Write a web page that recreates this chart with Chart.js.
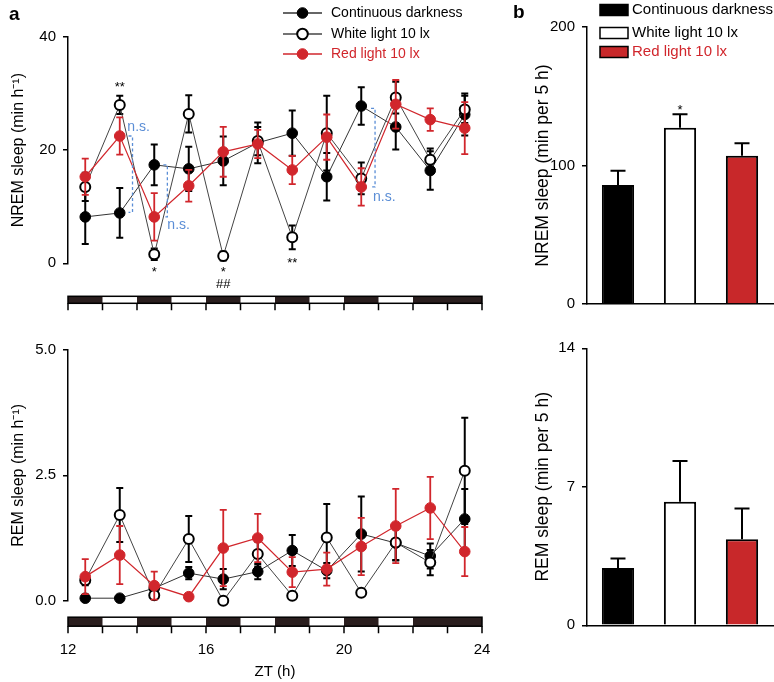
<!DOCTYPE html>
<html><head><meta charset="utf-8">
<script src="https://cdn.jsdelivr.net/npm/chart.js@4/dist/chart.umd.min.js"></script>
<style>
html,body{margin:0;padding:0;background:#fff;}
#wrap{position:relative;width:774px;height:682px;overflow:hidden;}
#wrap canvas{position:absolute;left:0;top:0;}
</style></head><body>
<div id="wrap">
<canvas id="c1" width="774" height="682"></canvas>
<canvas id="c2" width="774" height="682"></canvas>
<canvas id="c3" width="774" height="682"></canvas>
<canvas id="c4" width="774" height="682"></canvas>
</div>
<script>
// ---------- data ----------
const zt = [12.5, 13.5, 14.5, 15.5, 16.5, 17.5, 18.5, 19.5, 20.5, 21.5, 22.5, 23.5];
const groups = ['Continuous darkness', 'White light 10 lx', 'Red light 10 lx'];

const nremDark     = [8.2, 8.9, 17.4, 16.7, 18.1, 21.3, 23.0, 15.3, 27.8, 24.1, 16.4, 26.3];
const nremDarkErr  = [4.8, 4.4, 3.6, 3.9, 4.3, 3.6, 4.0, 4.2, 3.3, 4.0, 3.4, 3.7];
const nremWhite    = [13.5, 28.0, 1.6, 26.4, 1.3, 21.6, 4.6, 23.0, 15.0, 29.3, 18.3, 27.2];
const nremWhiteErr = [2.5, 1.6, 1.0, 3.3, 0.8, 2.5, 2.1, 6.6, 2.8, 2.8, 2.0, 2.4];
const nremRed      = [15.3, 22.5, 8.2, 13.7, 19.7, 21.1, 16.5, 22.3, 13.5, 28.1, 25.4, 23.9];
const nremRedErr   = [3.2, 3.3, 4.2, 2.8, 4.4, 2.5, 2.5, 4.0, 3.3, 4.3, 2.0, 4.6];

const remDark      = [0.05, 0.05, 0.25, 0.55, 0.43, 0.58, 1.0, 0.6, 1.33, 1.15, 0.89, 1.63];
const remDarkErr   = [0.05, 0.05, 0.1, 0.12, 0.2, 0.15, 0.31, 0.15, 0.75, 0.35, 0.25, 0.6];
const remWhite     = [0.41, 1.71, 0.11, 1.23, 0.0, 0.93, 0.1, 1.26, 0.16, 1.16, 0.76, 2.59];
const remWhiteErr  = [0.1, 0.54, 0.05, 0.46, 0.03, 0.25, 0.05, 0.67, 0.05, 0.35, 0.25, 1.06];
const remRed       = [0.48, 0.91, 0.3, 0.08, 1.05, 1.25, 0.57, 0.63, 1.08, 1.49, 1.85, 0.98];
const remRedErr    = [0.35, 0.58, 0.28, 0.03, 0.76, 0.48, 0.3, 0.33, 0.57, 0.74, 0.62, 0.49];

const nremTotal    = [85.9, 127.3, 107.0];
const nremTotalErr = [10.3, 9.7, 9.0];
const remTotal     = [2.9, 6.25, 4.35];
const remTotalErr  = [0.47, 2.05, 1.55];

const ldDarkPhases = [[12, 13], [14, 15], [16, 17], [18, 19], [20, 21], [22, 24]];
const ldHourTicks  = [12, 13, 14, 15, 16, 17, 18, 19, 20, 21, 22, 23, 24];
const nremTicks = [0, 20, 40];
const remTicks = [0, 2.5, 5];
const ztTicks = [12, 16, 20, 24];
const nremTotalTicks = [0, 100, 200];
const remTotalTicks = [0, 7, 14];

const nremMarks = [
  {x: 13.5, y: 31.0, text: '**'},
  {x: 14.5, y: -1.6, text: '*'},
  {x: 16.5, y: -1.6, text: '*'},
  {x: 16.5, y: -3.8, text: '##'},
  {x: 18.5, y: -0.1, text: '**'}
];
const nsText = 'n.s.';
const nremBrackets = [
  {x: 13.87, y1: 22.5, y2: 9.0, lx: 13.72, ly: 24.1},
  {x: 14.88, y1: 17.4, y2: 8.2, lx: 14.88, ly: 6.8},
  {x: 20.90, y1: 27.4, y2: 13.5, lx: 20.84, ly: 11.7}
];
const nremTotalMarks = [{x: 1, y: 140, text: '*'}];

// ---------- style ----------
const FONT = '"Liberation Sans", Arial, Helvetica, sans-serif';
const RED = '#d1262c';
const BAR_RED = '#c8282a';
const NS_BLUE = '#5b8ed6';
Chart.defaults.font.family = FONT;
Chart.defaults.color = '#000';
Chart.defaults.animation = false;

// ---------- plugins ----------
function drawErrors(chart, args, oneSided) {
  const ds = chart.data.datasets[args.index];
  if (!ds.errors) return;
  const ys = chart.scales.y, ctx = chart.ctx;
  ctx.save();
  ctx.strokeStyle = ds.errorColor; ctx.lineWidth = ds.errorWidth;
  args.meta.data.forEach((el, i) => {
    const raw = ds.data[i];
    const v = (typeof raw === 'object') ? raw.y : raw;
    const e = ds.errors[i];
    const top = ys.getPixelForValue(v + e);
    const bot = oneSided ? ys.getPixelForValue(v) : ys.getPixelForValue(v - e);
    const x = el.x, c = ds.errorCap;
    ctx.beginPath();
    ctx.moveTo(x, top); ctx.lineTo(x, bot);
    ctx.moveTo(x - c, top); ctx.lineTo(x + c, top);
    if (!oneSided) { ctx.moveTo(x - c, bot); ctx.lineTo(x + c, bot); }
    ctx.stroke();
  });
  ctx.restore();
}
const errorBarPlugin = {
  id: 'errorBars',
  beforeDatasetDraw(chart, args, opts) { if (!opts.oneSided) drawErrors(chart, args, false); },
  afterDatasetDraw(chart, args, opts) { if (opts.oneSided) drawErrors(chart, args, true); }
};

const ldPlugin = {
  id: 'ldBar',
  afterDraw(chart, args, opts) {
    const xs = chart.scales.x, ctx = chart.ctx;
    const y0 = chart.chartArea.bottom + opts.offset, h = opts.height;
    const xa = xs.getPixelForValue(ldHourTicks[0]);
    const xb = xs.getPixelForValue(ldHourTicks[ldHourTicks.length - 1]);
    ctx.save();
    ctx.fillStyle = '#fff'; ctx.fillRect(xa, y0, xb - xa, h);
    ctx.fillStyle = '#2a1e1e';
    ldDarkPhases.forEach(([a, b]) => {
      const p = xs.getPixelForValue(a), q = xs.getPixelForValue(b);
      ctx.fillRect(p, y0, q - p, h);
    });
    ctx.strokeStyle = '#000'; ctx.lineWidth = 1.5;
    ctx.strokeRect(xa, y0, xb - xa, h);
    ctx.beginPath();
    ldHourTicks.forEach(t => {
      const p = xs.getPixelForValue(t);
      ctx.moveTo(p, y0 + h); ctx.lineTo(p, y0 + h + opts.tick);
    });
    ctx.stroke();
    ctx.restore();
  }
};

const annotPlugin = {
  id: 'annot',
  afterDraw(chart, args, opts) {
    const xs = chart.scales.x, ys = chart.scales.y, ctx = chart.ctx;
    ctx.save();
    (opts.brackets || []).forEach(b => {
      const x = xs.getPixelForValue(b.x), y1 = ys.getPixelForValue(b.y1), y2 = ys.getPixelForValue(b.y2);
      ctx.strokeStyle = NS_BLUE; ctx.lineWidth = 1.3; ctx.setLineDash([3, 2.5]);
      ctx.beginPath(); ctx.moveTo(x - 4, y1); ctx.lineTo(x, y1); ctx.lineTo(x, y2); ctx.lineTo(x - 4, y2); ctx.stroke();
      ctx.setLineDash([]);
      ctx.fillStyle = NS_BLUE; ctx.font = '14px ' + FONT; ctx.textAlign = 'left'; ctx.textBaseline = 'middle';
      ctx.fillText(nsText, xs.getPixelForValue(b.lx), ys.getPixelForValue(b.ly));
    });
    (opts.marks || []).forEach(m => {
      ctx.fillStyle = '#000'; ctx.font = '13px ' + FONT; ctx.textAlign = 'center'; ctx.textBaseline = 'middle';
      ctx.fillText(m.text, xs.getPixelForValue(m.x), ys.getPixelForValue(m.y));
    });
    if (opts.panel) {
      ctx.fillStyle = '#000'; ctx.font = 'bold 19px ' + FONT; ctx.textAlign = 'left'; ctx.textBaseline = 'middle';
      ctx.fillText(opts.panel.text, opts.panel.x, opts.panel.y);
    }
    ctx.restore();
  }
};

const lineLegendPlugin = {
  id: 'lineLegend',
  afterDraw(chart, args, opts) {
    const ctx = chart.ctx;
    ctx.save();
    chart.data.datasets.forEach((ds, i) => {
      const y = opts.rows[i];
      ctx.strokeStyle = ds.borderColor; ctx.lineWidth = 1.5;
      ctx.beginPath(); ctx.moveTo(opts.x0, y); ctx.lineTo(opts.x1, y); ctx.stroke();
      ctx.beginPath(); ctx.arc((opts.x0 + opts.x1) / 2, y, 5.3, 0, Math.PI * 2);
      ctx.fillStyle = ds.pointBackgroundColor; ctx.fill();
      ctx.strokeStyle = ds.pointBorderColor; ctx.lineWidth = ds.pointBorderWidth; ctx.stroke();
      ctx.fillStyle = opts.textColors[i]; ctx.font = '14px ' + FONT; ctx.textAlign = 'left'; ctx.textBaseline = 'middle';
      ctx.fillText(ds.label, opts.tx, y);
    });
    ctx.restore();
  }
};

const barLegendPlugin = {
  id: 'barLegend',
  afterDraw(chart, args, opts) {
    const ctx = chart.ctx, ds = chart.data.datasets[0];
    ctx.save();
    chart.data.labels.forEach((lab, i) => {
      const y = opts.rows[i];
      ctx.fillStyle = ds.backgroundColor[i];
      ctx.fillRect(opts.x0, y - 5.5, opts.w, 11);
      ctx.strokeStyle = '#000'; ctx.lineWidth = 1.5;
      ctx.strokeRect(opts.x0, y - 5.5, opts.w, 11);
      ctx.fillStyle = opts.textColors[i]; ctx.font = '15px ' + FONT; ctx.textAlign = 'left'; ctx.textBaseline = 'middle';
      ctx.fillText(lab, opts.tx, y);
    });
    ctx.restore();
  }
};

// ---------- helpers ----------
function pts(ys) { return zt.map((x, i) => ({x, y: ys[i]})); }
function lineSets(d, de, w, we, r, re) {
  return [
    {label: groups[0], data: pts(d), errors: de, errorColor: '#000', errorWidth: 2, errorCap: 3.5,
     borderColor: '#333', borderWidth: 1, pointRadius: 5.3, pointBackgroundColor: '#000', pointBorderColor: '#000',
     pointBorderWidth: 1, order: 3, clip: false},
    {label: groups[1], data: pts(w), errors: we, errorColor: '#000', errorWidth: 2, errorCap: 3.5,
     borderColor: '#444', borderWidth: 1, pointRadius: 5, pointBackgroundColor: '#fff', pointBorderColor: '#000',
     pointBorderWidth: 2, order: 2, clip: false},
    {label: groups[2], data: pts(r), errors: re, errorColor: RED, errorWidth: 1.8, errorCap: 3.5,
     borderColor: RED, borderWidth: 1.2, pointRadius: 5.3, pointBackgroundColor: RED, pointBorderColor: RED,
     pointBorderWidth: 1, order: 1, clip: false}
  ];
}
function yAxis(min, max, ticks, title, width, titlePad, titleSize, fmt) {
  return {
    type: 'linear', min, max,
    afterBuildTicks: s => { s.ticks = ticks.map(v => ({value: v})); },
    afterFit: s => { s.width = width; },
    ticks: {font: {size: 15}, color: '#000', padding: 7, callback: fmt || (v => v)},
    grid: {drawOnChartArea: false, drawTicks: true, tickLength: 5, color: '#000', lineWidth: 1.5},
    border: {display: true, color: '#000', width: 1.5},
    title: {display: true, text: title, font: {size: titleSize}, color: '#000', padding: {top: titlePad, bottom: 0}}
  };
}
const common = {responsive: false, devicePixelRatio: 1, events: [], animation: false};

// ---------- chart a (NREM) ----------
new Chart(document.getElementById('c1'), {
  type: 'line',
  data: {datasets: lineSets(nremDark, nremDarkErr, nremWhite, nremWhiteErr, nremRed, nremRedErr)},
  options: Object.assign({}, common, {
    layout: {autoPadding: false, padding: {left: 0, top: 37, right: 292, bottom: 418.7}},
    scales: {
      x: {type: 'linear', min: 12, max: 24, display: false},
      y: yAxis(0, 40, nremTicks, 'NREM sleep (min h\u207B\u00B9)', 68, 9, 16)
    },
    plugins: {
      legend: {display: false}, tooltip: {enabled: false},
      ldBar: {offset: 33, height: 7, tick: 7},
      annot: {brackets: nremBrackets, marks: nremMarks, panel: {text: 'a', x: 9, y: 15}},
      lineLegend: {rows: [13, 34, 54], x0: 283, x1: 322, tx: 331, textColors: ['#000', '#000', RED]}
    }
  }),
  plugins: [errorBarPlugin, ldPlugin, annotPlugin, lineLegendPlugin]
});

// ---------- chart a (REM) ----------
new Chart(document.getElementById('c3'), {
  type: 'line',
  data: {datasets: lineSets(remDark, remDarkErr, remWhite, remWhiteErr, remRed, remRedErr)},
  options: Object.assign({}, common, {
    layout: {autoPadding: false, padding: {left: 0, top: 350, right: 292, bottom: 0}},
    scales: {
      x: {type: 'linear', min: 12, max: 24,
          afterBuildTicks: s => { s.ticks = ztTicks.map(v => ({value: v})); },
          afterFit: s => { s.height = 81.3; },
          ticks: {font: {size: 15}, color: '#000', padding: 40},
          grid: {display: false, drawTicks: false},
          border: {display: false},
          title: {display: true, text: 'ZT (h)', font: {size: 15}, color: '#000', padding: {top: 0, bottom: 1}}},
      y: yAxis(0, 5, remTicks, 'REM sleep (min h\u207B\u00B9)', 68, 9, 16, v => Number(v).toFixed(1))
    },
    plugins: {
      legend: {display: false}, tooltip: {enabled: false},
      ldBar: {offset: 16.5, height: 9, tick: 7},
      annot: {}
    }
  }),
  plugins: [errorBarPlugin, ldPlugin, annotPlugin]
});

// ---------- chart b (bars) ----------
function barChart(id, values, errs, ticks, max, title, padding, marks, panel, legend) {
  const plugs = [errorBarPlugin, annotPlugin];
  if (legend) plugs.push(barLegendPlugin);
  return new Chart(document.getElementById(id), {
    type: 'bar',
    data: {labels: groups, datasets: [{
      data: values, errors: errs, errorColor: '#000', errorWidth: 2, errorCap: 7.5,
      backgroundColor: ['#000', '#fff', BAR_RED], borderColor: '#000', borderWidth: 2,
      barPercentage: 0.52, categoryPercentage: 1, clip: false
    }]},
    options: Object.assign({}, common, {
      layout: {autoPadding: false, padding},
      scales: {
        x: {type: 'category', ticks: {display: false}, grid: {display: false, drawTicks: false},
            border: {display: true, color: '#000', width: 1.5}, afterFit: s => { s.height = 0; }},
        y: yAxis(0, max, ticks, title, 67, 13, 17.5)
      },
      plugins: {
        legend: {display: false}, tooltip: {enabled: false},
        errorBars: {oneSided: true},
        annot: {marks, panel},
        barLegend: {rows: [10, 33, 52], x0: 600, w: 28, tx: 632, textColors: ['#000', '#000', RED]}
      }
    }),
    plugins: plugs
  });
}
barChart('c2', nremTotal, nremTotalErr, nremTotalTicks, 200, 'NREM sleep (min per 5 h)',
  {left: 520, top: 27, right: 1, bottom: 378}, nremTotalMarks, {text: 'b', x: 513, y: 13}, true);
barChart('c4', remTotal, remTotalErr, remTotalTicks, 14, 'REM sleep (min per 5 h)',
  {left: 520, top: 348.3, right: 1, bottom: 56.7}, [], null, false);
</script>
</body></html>
